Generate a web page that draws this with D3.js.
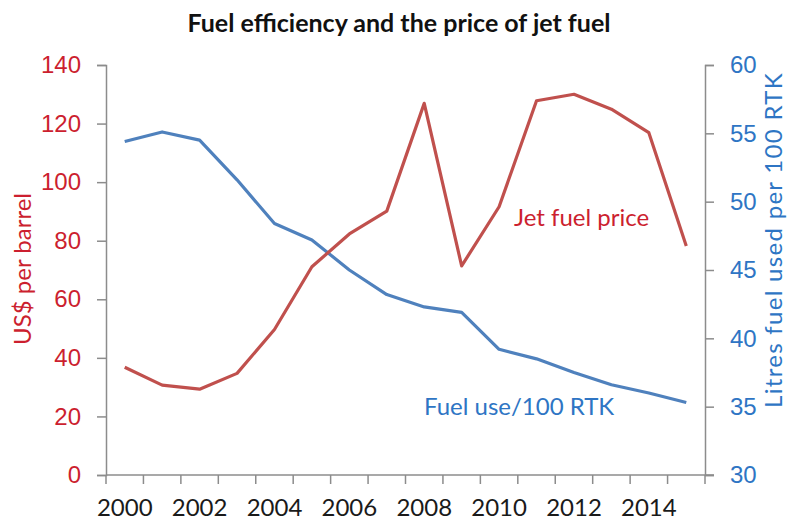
<!DOCTYPE html>
<html>
<head>
<meta charset="utf-8">
<script src="https://cdn.jsdelivr.net/npm/d3@7"></script>
<style>
  body { margin: 0; background: #fff; }
  svg { font-family: Lato, "Open Sans", sans-serif; }
  .axis path, .axis line { stroke: #8c8c8c; stroke-width: 1.5; }
</style>
</head>
<body>
<div class="chart"></div>
<script>
// values
const years = [2000, 2001, 2002, 2003, 2004, 2005, 2006, 2007,
               2008, 2009, 2010, 2011, 2012, 2013, 2014, 2015];
const jetPrice = [36.8, 30.7, 29.3, 34.7, 49.7, 71.1, 82.3, 90.1,
                  126.9, 71.4, 91.6, 127.8, 130.0, 124.9, 116.9, 78.2];
const fuelUse = [54.4, 55.1, 54.5, 51.6, 48.4, 47.2, 45.0, 43.2,
                 42.3, 41.9, 39.2, 38.5, 37.5, 36.6, 36.0, 35.3];
const leftTicks = [0, 20, 40, 60, 80, 100, 120, 140];
const rightTicks = [30, 35, 40, 45, 50, 55, 60];
const yearLabels = [2000, 2002, 2004, 2006, 2008, 2010, 2012, 2014];

const red = "#c0504d", blue = "#4f81bd";
const redText = "#cc1f2f", blueText = "#2e75c4";
const fs = "24px";

let margin = {top: 65, right: 83, bottom: 45, left: 106};
let width = 788 - margin.left - margin.right;
let height = 520 - margin.top - margin.bottom;

let svg = d3.select('.chart')
    .append('svg')
    .attr('width', 788)
    .attr('height', 520);

let g = svg.append("g")
    .attr("transform", `translate(${margin.left},${margin.top})`);

let xScale = d3.scaleBand()
    .domain(years)
    .range([0, width]);

let yLeft = d3.scaleLinear().domain([0, 140]).range([height, 0]);
let yRight = d3.scaleLinear().domain([30, 60]).range([height, 0]);

// x axis: ticks on category boundaries, labels every other year
let xAxis = g.append("g")
    .attr("class", "axis x-axis")
    .attr("transform", `translate(0, ${height})`);
xAxis.append("line")
    .attr("x1", 0).attr("x2", width + 9);
xAxis.selectAll(".tk")
    .data(years.concat(["end"]))
    .enter()
    .append("line")
    .attr("class", "tk")
    .attr("x1", (d, i) => i * xScale.step())
    .attr("x2", (d, i) => i * xScale.step())
    .attr("y1", 0).attr("y2", 9);
xAxis.selectAll("text")
    .data(yearLabels)
    .enter()
    .append("text")
    .attr("x", d => xScale(d) + xScale.bandwidth() / 2)
    .attr("y", 41)
    .attr("text-anchor", "middle")
    .attr("fill", "#1a1a1a")
    .style("font-size", fs)
    .text(d => d);

let leftAxis = g.append("g")
    .attr("class", "axis y-axis")
    .call(d3.axisLeft(yLeft).tickValues(leftTicks).tickSize(9).tickSizeOuter(9).tickPadding(16));
leftAxis.selectAll("text").attr("fill", redText).style("font-size", fs);

let rightAxis = g.append("g")
    .attr("class", "axis y-axis")
    .attr("transform", `translate(${width},0)`)
    .call(d3.axisRight(yRight).tickValues(rightTicks).tickSize(9).tickSizeOuter(9).tickPadding(16));
rightAxis.selectAll("text").attr("fill", blueText).style("font-size", fs);

let xc = d => xScale(d) + xScale.bandwidth() / 2;

let priceLine = d3.line()
    .x((d, i) => xc(years[i]))
    .y(d => yLeft(d));
let useLine = d3.line()
    .x((d, i) => xc(years[i]))
    .y(d => yRight(d));

g.append("path")
    .datum(fuelUse)
    .attr("d", useLine)
    .attr("fill", "none")
    .attr("stroke", blue)
    .attr("stroke-width", 3.2)
    .attr("stroke-linejoin", "round");

g.append("path")
    .datum(jetPrice)
    .attr("d", priceLine)
    .attr("fill", "none")
    .attr("stroke", red)
    .attr("stroke-width", 3.2)
    .attr("stroke-linejoin", "round");

// labels in the plot
svg.append("text")
    .attr("x", 514).attr("y", 226)
    .attr("fill", redText)
    .style("font-size", fs)
    .text("Jet fuel price");
svg.append("text")
    .attr("x", 424).attr("y", 415)
    .attr("fill", blueText)
    .style("font-size", fs)
    .text("Fuel use/100 RTK");

// axis titles
svg.append("text")
    .attr("transform", `translate(31, 269) rotate(-90)`)
    .attr("text-anchor", "middle")
    .attr("fill", redText)
    .style("font-size", fs)
    .text("US$ per barrel");
svg.append("text")
    .attr("transform", `translate(782, 240) rotate(-90)`)
    .attr("text-anchor", "middle")
    .attr("fill", blueText)
    .style("font-size", fs)
    .style("letter-spacing", "1.3px")
    .text("Litres fuel used per 100 RTK");

svg.append("text")
    .attr("x", 399).attr("y", 32)
    .attr("text-anchor", "middle")
    .attr("fill", "#111")
    .style("font-size", "25px")
    .style("font-weight", "bold")
    .text("Fuel efficiency and the price of jet fuel");
</script>
</body>
</html>
